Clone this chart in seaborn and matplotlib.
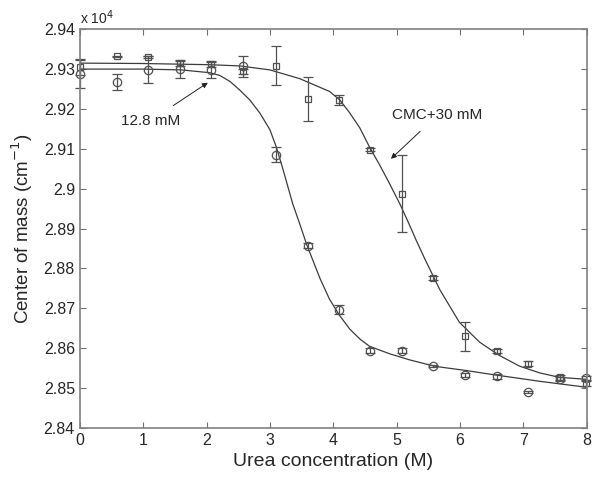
import numpy as np
import pandas as pd
import seaborn as sns
import matplotlib
matplotlib.use("Agg")
import matplotlib.pyplot as plt

# measured points (y in units of 1e4 cm^-1)
urea_circ = [0.0, 0.58, 1.08, 1.58, 2.07, 2.58, 3.10, 3.60, 4.09, 4.58, 5.09, 5.58, 6.08, 6.58, 7.08, 7.58, 7.99]
com_circ = [2.9287, 2.9267, 2.9298, 2.9301, 2.9298, 2.9307, 2.9085, 2.8857, 2.8697, 2.8594, 2.8594, 2.8555,
            2.8533, 2.8530, 2.8490, 2.8523, 2.8525]
err_circ = [0.0035, 0.0020, 0.0034, 0.0023, 0.0020, 0.0026, 0.0019, 0.0006, 0.0012, 0.0006, 0.0006, 0.0003,
            0.0005, 0.0006, 0.0002, 0.0005, 0.0006]

urea_sq = [0.0, 0.58, 1.08, 1.58, 2.07, 2.58, 3.10, 3.60, 4.09, 4.58, 5.09, 5.58, 6.08, 6.58, 7.08, 7.58, 7.99]
com_sq = [2.9305, 2.9332, 2.9331, 2.9315, 2.9313, 2.9294, 2.9308, 2.9226, 2.9222, 2.9098, 2.8988, 2.8776,
          2.8630, 2.8593, 2.8561, 2.8527, 2.8513]
err_sq = [0.0020, 0.0002, 0.0003, 0.0006, 0.0008, 0.0006, 0.0049, 0.0055, 0.0013, 0.0003, 0.0096, 0.0004,
          0.0036, 0.0005, 0.0006, 0.0006, 0.0008]

# fitted curves
fit_x_circ = [0.0, 1.0, 1.6, 2.05, 2.21, 2.37, 2.52, 2.68, 2.84, 3.0, 3.10, 3.2, 3.36, 3.47, 3.58, 3.79,
              3.94, 4.10, 4.26, 4.42, 4.57, 4.89, 5.2, 5.52, 5.68, 6.1, 6.47, 7.26, 8.0]
fit_y_circ = [2.9300, 2.9300, 2.9298, 2.9291, 2.9284, 2.9269, 2.9248, 2.9223, 2.9190, 2.9148, 2.9105, 2.9052,
              2.8962, 2.8912, 2.8860, 2.8775, 2.8723, 2.8682, 2.8648, 2.8623, 2.8605, 2.8586, 2.8571, 2.8558,
              2.8553, 2.8544, 2.8535, 2.8517, 2.8502]
fit_x_sq = [0.0, 1.0, 2.05, 2.52, 3.0, 3.47, 3.94, 4.10, 4.26, 4.42, 4.57, 4.73, 4.89, 5.05, 5.2, 5.31,
            5.45, 5.57, 5.68, 5.99, 6.31, 6.62, 6.94, 7.26, 7.57, 8.0]
fit_y_sq = [2.9315, 2.9314, 2.9311, 2.9308, 2.9298, 2.9276, 2.9244, 2.9223, 2.9190, 2.9152, 2.9105, 2.9060,
            2.9012, 2.8962, 2.8910, 2.8870, 2.8822, 2.8783, 2.8747, 2.8665, 2.8615, 2.8582, 2.8555, 2.8538,
            2.8527, 2.8522]

yticks = [2.84, 2.85, 2.86, 2.87, 2.88, 2.89, 2.9, 2.91, 2.92, 2.93, 2.94]

sns.set_style("ticks")
plt.rcParams["font.family"] = ["Liberation Sans", "DejaVu Sans"]

fig = plt.figure(figsize=(6.0, 4.79), dpi=100)
ax = fig.add_axes([0.133, 0.1065, 0.845, 0.8325])

line_col = "#3c3c3c"
mark_col = "#505050"

circ_fit = pd.DataFrame({"x": fit_x_circ, "y": fit_y_circ})
sq_fit = pd.DataFrame({"x": fit_x_sq, "y": fit_y_sq})
sns.lineplot(data=circ_fit, x="x", y="y", ax=ax, color=line_col, lw=0.9, sort=True)
sns.lineplot(data=sq_fit, x="x", y="y", ax=ax, color=line_col, lw=0.9, sort=True)

for xs, ys, es, mk, ms in [(urea_circ, com_circ, err_circ, "o", 6), (urea_sq, com_sq, err_sq, "s", 4.5)]:
    parts = ax.errorbar(xs, ys, yerr=es, fmt=mk, mfc="none", mec=mark_col, ms=ms, mew=0.9,
                        ecolor=mark_col, elinewidth=0.9, capsize=3.6, capthick=0.9)
    for art in parts.lines[0:1] + tuple(parts.lines[1]) + tuple(parts.lines[2]):
        art.set_clip_on(False)

ax.annotate("12.8 mM", xy=(2.02, 2.9266), xytext=(1.12, 2.9171), ha="center", va="center", fontsize=11,
            arrowprops=dict(arrowstyle="-|>", color="#222222", lw=0.7, mutation_scale=8, shrinkA=6, shrinkB=0))
ax.annotate("CMC+30 mM", xy=(4.91, 2.9075), xytext=(5.64, 2.9184), ha="center", va="center", fontsize=11,
            arrowprops=dict(arrowstyle="-|>", color="#222222", lw=0.7, mutation_scale=8, shrinkA=6, shrinkB=0))

ax.set_xlim(0, 8)
ax.set_ylim(2.84, 2.94)
ax.set_xticks(range(9))
ax.set_yticks(yticks)
ax.set_yticklabels([f"{t:g}" for t in yticks])
ax.tick_params(direction="in", top=True, right=True, labelsize=11.5, length=4, width=0.8, color="#707070")
for s in ax.spines.values():
    s.set_color("#808080")
    s.set_linewidth(1.2)

ax.set_xlabel("Urea concentration (M)", fontsize=14, labelpad=4)
ax.set_ylabel("Center of mass (cm$^{-1}$)", fontsize=13.5, labelpad=6)
ax.text(0.0, 1.005, "x 10$^{4}$", transform=ax.transAxes, fontsize=10, ha="left", va="bottom")

fig.savefig("out.png", dpi=100)
